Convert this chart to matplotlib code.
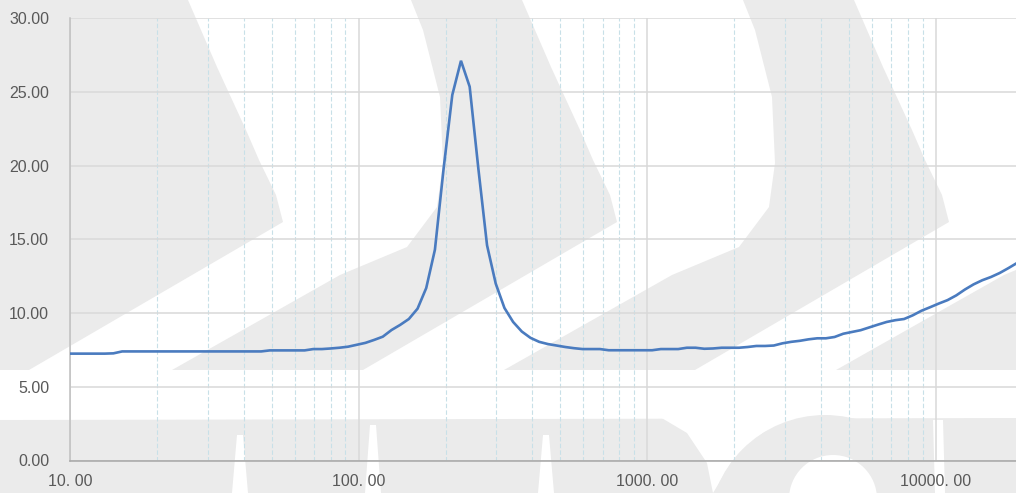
import matplotlib
matplotlib.use("Agg")
import matplotlib.pyplot as plt
from matplotlib.patches import Polygon, Circle
from matplotlib.ticker import FixedLocator, LogLocator, NullFormatter

# frequency points (Hz), 1/10 octave
freq = [10.0, 10.72, 11.49, 12.31, 13.2, 14.14, 15.16, 16.25, 17.41, 18.66,
        20.0, 21.44, 22.97, 24.62, 26.39, 28.28, 30.31, 32.49, 34.82, 37.32,
        40.0, 42.87, 45.95, 49.25, 52.78, 56.57, 60.63, 64.98, 69.64, 74.64,
        80.0, 85.74, 91.9, 98.49, 105.56, 113.14, 121.26, 129.96, 139.29, 149.29,
        160.0, 171.48, 183.79, 196.98, 211.12, 226.27, 242.51, 259.92, 278.58, 298.57,
        320.0, 342.97, 367.58, 393.97, 422.24, 452.55, 485.03, 519.84, 557.15, 597.14,
        640.0, 685.9, 735.2, 787.9, 844.5, 905.1, 970.1, 1039.7, 1114.3, 1194.3,
        1280.0, 1371.9, 1470.3, 1575.9, 1689.0, 1810.2, 1940.1, 2079.4, 2228.6, 2388.6,
        2560.0, 2743.7, 2940.7, 3151.7, 3377.9, 3620.4, 3880.3, 4158.8, 4457.2, 4777.2,
        5120.0, 5487.5, 5881.3, 6303.5, 6755.9, 7240.8, 7760.5, 8317.5, 8914.4, 9554.2,
        10240.0, 10975.0, 11763.0, 12607.0, 13512.0, 14482.0, 15521.0, 16635.0, 17829.0, 19109.0]

level = [7.25, 7.25, 7.25, 7.25, 7.25, 7.27, 7.40, 7.40, 7.40, 7.40,
         7.40, 7.40, 7.40, 7.40, 7.40, 7.40, 7.40, 7.40, 7.40, 7.40,
         7.40, 7.40, 7.40, 7.47, 7.47, 7.47, 7.47, 7.47, 7.56, 7.56,
         7.60, 7.65, 7.72, 7.85, 7.98, 8.18, 8.40, 8.85, 9.20, 9.60,
         10.30, 11.70, 14.30, 19.80, 24.80, 27.12, 25.36, 19.80, 14.60, 12.00,
         10.35, 9.40, 8.75, 8.32, 8.05, 7.90, 7.80, 7.70, 7.62, 7.56,
         7.56, 7.56, 7.48, 7.48, 7.48, 7.48, 7.48, 7.48, 7.56, 7.56,
         7.56, 7.65, 7.65, 7.58, 7.60, 7.65, 7.65, 7.65, 7.70, 7.77,
         7.77, 7.80, 7.95, 8.05, 8.12, 8.22, 8.29, 8.29, 8.38, 8.60,
         8.72, 8.84, 9.03, 9.22, 9.40, 9.52, 9.60, 9.85, 10.16, 10.40,
         10.65, 10.88, 11.20, 11.60, 11.95, 12.23, 12.45, 12.72, 13.05, 13.40]

yticks = [0, 5, 10, 15, 20, 25, 30]
xticks = [10, 100, 1000, 10000]
xlabels = ["10. 00", "100. 00", "1000. 00", "10000. 00"]

W, H = 1016, 493
fig = plt.figure(figsize=(W / 100, H / 100), dpi=100)
plt.rcParams['font.family'] = ['Liberation Sans', 'DejaVu Sans']

# background watermark (pixel coords)
bg = fig.add_axes([0, 0, 1, 1], zorder=0)
bg.set_xlim(0, W)
bg.set_ylim(H, 0)
bg.axis('off')
wm = '#ebebeb'

shape_right = [(522, 0), (551, 67), (580, 130), (593, 160), (610, 195), (617, 222), (363, 370)]
shape_left = [(172, 370), (340, 275), (407, 247), (437, 207), (443, 163), (440, 97), (423, 30), (411, 0)]

# first shape runs off the left edge
pts = [(x - 334, y) for x, y in shape_right] + [(0, 370), (0, 0)]
bg.add_patch(Polygon(pts, closed=True, fc=wm, ec='none'))
for off in [0, 332, 664]:
    pts = [(x + off, y) for x, y in shape_right + shape_left]
    bg.add_patch(Polygon(pts, closed=True, fc=wm, ec='none'))

# bottom lettering
bg.add_patch(Polygon([(0, 420), (W, 418), (W, H), (0, H)], closed=True, fc=wm, ec='none'))
for cx, top in [(240, 435), (373, 425), (546, 435)]:
    bg.add_patch(Polygon([(cx - 3, top), (cx + 3, top), (cx + 8, H), (cx - 8, H)],
                         closed=True, fc='white', ec='none'))
bg.add_patch(Polygon([(660, 417), (805, 417), (763, 433), (731, 463), (713, H),
                      (707, 463), (687, 433)], closed=True, fc='white', ec='none'))
bg.add_patch(Circle((825, 531.6), 116.6, fc=wm, ec='none'))
bg.add_patch(Circle((833, 499), 44, fc='white', ec='none'))
bg.add_patch(Polygon([(933, 420), (943, 420), (945, H), (935, H)], closed=True, fc='white', ec='none'))

# main chart
ax = fig.add_axes([70 / W, 32.5 / H, (W - 70) / W, 442.2 / H], zorder=1)
ax.patch.set_alpha(0)
ax.set_xscale('log')
ax.plot(freq, level, color='#4a7bbf', lw=1.9, solid_joinstyle='miter', zorder=3)

ax.set_xlim(10, 18950)
ax.set_ylim(0, 30)
ax.set_yticks(yticks)
ax.set_yticklabels(['{:.2f}'.format(v) for v in yticks])
ax.xaxis.set_major_locator(FixedLocator(xticks))
ax.set_xticklabels(xlabels)
ax.xaxis.set_minor_locator(LogLocator(base=10, subs=range(2, 10)))
ax.xaxis.set_minor_formatter(NullFormatter())

ax.grid(True, which='major', axis='y', color='#d9d9d9', lw=1.1)
ax.grid(True, which='major', axis='x', color='#d9d9d9', lw=1.1)
ax.grid(True, which='minor', axis='x', color='#c8e0e8', lw=0.8, ls=(0, (4, 2)))
ax.set_axisbelow(True)

for s in ['top', 'right']:
    ax.spines[s].set_visible(False)
ax.spines['left'].set_color('#bfbfbf')
ax.spines['bottom'].set_color('#a6a6a6')
ax.spines['left'].set_linewidth(1.1)
ax.spines['bottom'].set_linewidth(1.1)

ax.tick_params(axis='y', which='both', length=0, pad=15, labelsize=11.5, labelcolor='#595959')
ax.tick_params(axis='x', which='both', length=0, pad=10, labelsize=11.5, labelcolor='#595959')

fig.savefig('out.png', dpi=100)
